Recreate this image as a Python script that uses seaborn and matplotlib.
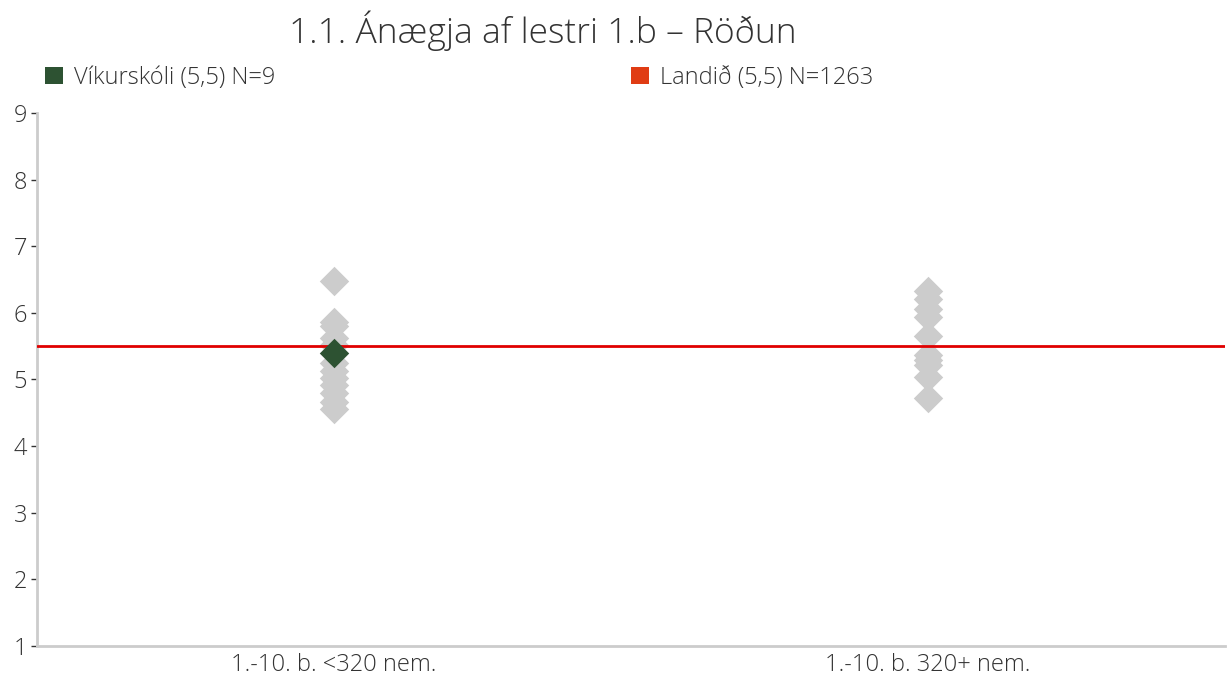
import seaborn as sns
import pandas as pd
import matplotlib.pyplot as plt
from matplotlib.patches import Patch

categories = ["1.-10. b. <320 nem.", "1.-10. b. 320+ nem."]

# other schools in each group (grey diamonds)
group1_values = [6.48, 5.86, 5.80, 5.62, 5.52, 5.25, 5.12, 5.02, 4.92, 4.80, 4.66, 4.55]
group2_values = [6.33, 6.20, 6.05, 5.94, 5.65, 5.37, 5.29, 5.22, 5.04, 4.72]

school_name = "Víkurskóli (5,5) N=9"
school_group = "1.-10. b. <320 nem."
school_value = 5.40

national_name = "Landið (5,5) N=1263"
national_value = 5.5

title = "1.1. Ánægja af lestri 1.b \u2013 Röðun"

df = pd.DataFrame({
	"group": [categories[0]] * len(group1_values) + [categories[1]] * len(group2_values),
	"value": group1_values + group2_values,
})
school_df = pd.DataFrame({"group": [school_group], "value": [school_value]})

sns.set_theme(style="white")
plt.rcParams['font.family'] = ['Open Sans', 'DejaVu Sans']
plt.rcParams['font.weight'] = 'light'

fig = plt.figure(figsize=(12.31, 6.8), dpi=100)
ax = fig.add_axes([0.030, 0.05, 0.965, 0.784])

sns.stripplot(data=df, x="group", y="value", order=categories, jitter=False,
	marker="D", size=15, color="#cccccc", linewidth=0, ax=ax, zorder=2)
ax.axhline(national_value, color="#e00000", linewidth=2, zorder=3)
sns.stripplot(data=school_df, x="group", y="value", order=categories, jitter=False,
	marker="D", size=15, color="#2d5232", linewidth=0, ax=ax, zorder=4)

ax.set_xlim(-0.5, 1.5)
ax.set_ylim(1, 9)
ax.set_yticks(range(1, 10))
ax.set_xlabel("")
ax.set_ylabel("")
ax.tick_params(axis="y", labelsize=17, length=4, width=1, color="#333333",
	labelcolor="#333333", pad=3, left=True)
ax.tick_params(axis="x", labelsize=17, length=0, labelcolor="#333333", pad=5)
for side in ["top", "right"]:
	ax.spines[side].set_visible(False)
for side in ["left", "bottom"]:
	ax.spines[side].set_color("#cccccc")
	ax.spines[side].set_linewidth(2)

fig.text(0.441, 0.955, title, ha="center", va="center", fontsize=25.5, color="#333333")

h1 = [Patch(facecolor="#2d5232", edgecolor="none")]
h2 = [Patch(facecolor="#e03c14", edgecolor="none")]
fig.legend(h1, [school_name], loc="center left", bbox_to_anchor=(0.0195, 0.886),
	frameon=False, fontsize=17, handlelength=0.75, handleheight=0.75, handletextpad=0.45,
	labelcolor="#333333")
fig.legend(h2, [national_name], loc="center left", bbox_to_anchor=(0.4955, 0.886),
	frameon=False, fontsize=17, handlelength=0.75, handleheight=0.75, handletextpad=0.45,
	labelcolor="#333333")

plt.savefig("out.png", dpi=100)
